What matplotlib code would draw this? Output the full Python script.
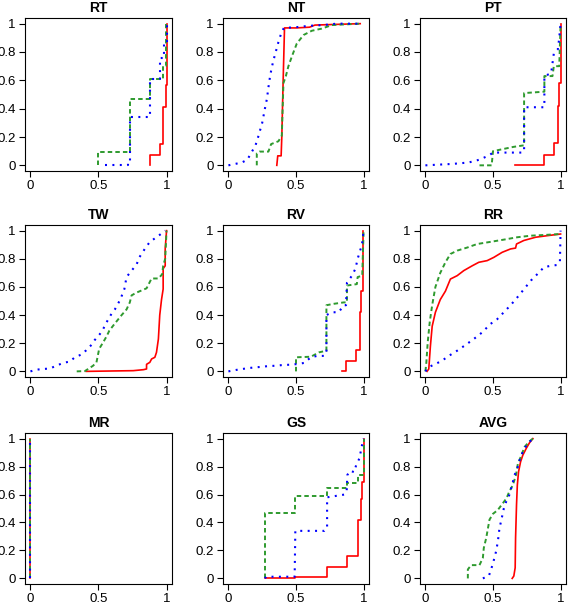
import matplotlib
matplotlib.use('Agg')
import matplotlib.pyplot as plt

plt.rcParams['font.family'] = ['Liberation Sans', 'DejaVu Sans']

# panel titles, row by row
titles = ['RT', 'NT', 'PT', 'TW', 'RV', 'RR', 'MR', 'GS', 'AVG']

x_ticks = [0, 0.5, 1]
x_tick_labels = ['0', '0.5', '1']
y_ticks = [0, 0.2, 0.4, 0.6, 0.8, 1]
y_tick_labels = ['0', '0.2', '0.4', '0.6', '0.8', '1']

# RT (step curves)
rt_red_x = [0.88, 0.88, 0.95, 0.975, 0.993, 1.0]
rt_red_y = [0, 0.07, 0.15, 0.41, 0.57, 1.0]
rt_green_x = [0.5, 0.5, 0.73, 0.88, 0.975, 0.995]
rt_green_y = [0, 0.095, 0.47, 0.61, 0.70, 1.0]
rt_blue_x = [0.55, 0.72, 0.73, 0.88, 0.95, 0.98, 1.0]
rt_blue_y = [0, 0.02, 0.34, 0.61, 0.76, 0.86, 1.0]

# NT
nt_red_x = [0.358, 0.365, 0.39, 0.395, 0.405, 0.415, 0.5, 0.6, 0.64, 0.8, 0.975]
nt_red_y = [0, 0.067, 0.067, 0.2, 0.6, 0.97, 0.97, 0.975, 0.99, 0.995, 1.0]
nt_green_x = [0.21, 0.21, 0.23, 0.296, 0.316, 0.37, 0.395, 0.407, 0.425, 0.444, 0.47,
              0.506, 0.556, 0.617, 0.69, 0.765, 0.864, 0.975]
nt_green_y = [0, 0.085, 0.097, 0.097, 0.15, 0.17, 0.21, 0.58, 0.63, 0.70, 0.77,
              0.86, 0.92, 0.95, 0.965, 0.99, 0.995, 1.0]
nt_blue_x = [0, 0.05, 0.1, 0.14, 0.17, 0.2, 0.22, 0.25, 0.27, 0.285, 0.296, 0.31,
             0.33, 0.35, 0.37, 0.39, 0.41, 0.5, 0.6, 0.7, 0.8, 0.97]
nt_blue_y = [0, 0.01, 0.02, 0.04, 0.09, 0.14, 0.2, 0.3, 0.4, 0.47, 0.55, 0.64,
             0.73, 0.8, 0.87, 0.93, 0.97, 0.975, 0.985, 0.99, 1.0, 1.0]

# PT
pt_red_x = [0.66, 0.88, 0.95, 0.98, 0.99, 1.0]
pt_red_y = [0.003, 0.075, 0.155, 0.42, 0.58, 1.0]
pt_green_x = [0.4, 0.49, 0.5, 0.55, 0.65, 0.72, 0.73, 0.73, 0.88, 0.88, 0.94, 0.95, 0.99, 1.0]
pt_green_y = [0, 0, 0.1, 0.11, 0.13, 0.14, 0.14, 0.51, 0.52, 0.63, 0.63, 0.7, 0.7, 1.0]
pt_blue_x = [0, 0.2, 0.32, 0.4, 0.47, 0.5, 0.55, 0.72, 0.73, 0.73, 0.88, 0.88,
             0.93, 0.95, 0.98, 0.99, 1.0]
pt_blue_y = [0, 0.01, 0.02, 0.04, 0.07, 0.09, 0.09, 0.09, 0.1, 0.41, 0.41, 0.63,
             0.65, 0.79, 0.82, 0.9, 1.0]

# TW
tw_red_x = [0.41, 0.755, 0.83, 0.853, 0.853, 0.877, 0.89, 0.914, 0.926, 0.94, 0.95,
            0.963, 0.975, 0.975, 0.99, 0.99, 1.0]
tw_red_y = [0, 0.005, 0.012, 0.017, 0.05, 0.064, 0.088, 0.1, 0.135, 0.23, 0.40,
            0.51, 0.585, 0.73, 0.75, 0.87, 1.0]
tw_green_x = [0.34, 0.40, 0.46, 0.485, 0.505, 0.534, 0.56, 0.58, 0.62, 0.67, 0.706,
              0.73, 0.743, 0.78, 0.853, 0.89, 0.94, 0.968, 0.975, 0.99, 1.0]
tw_green_y = [0, 0.002, 0.04, 0.064, 0.16, 0.206, 0.25, 0.29, 0.34, 0.40, 0.44,
              0.49, 0.54, 0.56, 0.59, 0.66, 0.66, 0.69, 0.75, 0.80, 1.0]
tw_blue_x = [0, 0.044, 0.093, 0.142, 0.19, 0.24, 0.29, 0.326, 0.375, 0.41, 0.45, 0.47,
             0.51, 0.534, 0.56, 0.596, 0.62, 0.66, 0.69, 0.706, 0.73, 0.755, 0.78,
             0.80, 0.84, 0.877, 0.914, 0.95, 0.99]
tw_blue_y = [0, 0.012, 0.017, 0.02, 0.04, 0.06, 0.07, 0.10, 0.12, 0.15, 0.19, 0.22,
             0.265, 0.30, 0.35, 0.41, 0.44, 0.51, 0.585, 0.67, 0.70, 0.73, 0.76,
             0.81, 0.87, 0.92, 0.945, 0.97, 1.0]

# RV
rv_red_x = [0.84, 0.873, 0.946, 0.97, 0.983, 0.995]
rv_red_y = [0, 0.073, 0.154, 0.42, 0.573, 1.0]
rv_green_x = [0.5, 0.5, 0.61, 0.67, 0.725, 0.725, 0.78, 0.853, 0.877, 0.877, 0.95,
              0.956, 0.99, 1.0]
rv_green_y = [0, 0.1, 0.104, 0.135, 0.147, 0.47, 0.48, 0.49, 0.49, 0.61, 0.62,
              0.67, 0.68, 1.0]
rv_blue_x = [0, 0.056, 0.105, 0.15, 0.2, 0.25, 0.3, 0.35, 0.4, 0.45, 0.51, 0.56,
             0.61, 0.657, 0.71, 0.725, 0.725, 0.767, 0.816, 0.853, 0.87, 0.877,
             0.914, 0.94, 0.956, 0.975, 0.988, 1.0]
rv_blue_y = [0, 0.01, 0.017, 0.024, 0.028, 0.033, 0.038, 0.04, 0.045, 0.047, 0.052,
             0.06, 0.1, 0.11, 0.11, 0.135, 0.40, 0.42, 0.42, 0.47, 0.47, 0.63,
             0.68, 0.73, 0.8, 0.86, 0.9, 1.0]

# RR
rr_red_x = [0.012, 0.025, 0.037, 0.05, 0.074, 0.11, 0.148, 0.185, 0.235, 0.284,
            0.346, 0.395, 0.457, 0.506, 0.568, 0.63, 0.667, 0.674, 0.728, 0.815,
            0.9, 1.0]
rr_red_y = [0, 0.017, 0.18, 0.32, 0.42, 0.51, 0.57, 0.656, 0.68, 0.716, 0.75, 0.775,
            0.787, 0.81, 0.846, 0.87, 0.876, 0.905, 0.93, 0.953, 0.964, 0.976]
rr_green_x = [0, 0.007, 0.017, 0.032, 0.05, 0.074, 0.11, 0.148, 0.185, 0.235, 0.31,
              0.383, 0.48, 0.58, 0.68, 0.778, 0.877, 1.0]
rr_green_y = [0, 0.064, 0.206, 0.35, 0.47, 0.6, 0.70, 0.775, 0.834, 0.858, 0.88,
              0.905, 0.92, 0.936, 0.953, 0.964, 0.969, 0.976]
rr_blue_x = [0, 0.012, 0.037, 0.074, 0.123, 0.173, 0.235, 0.296, 0.358, 0.42, 0.48,
             0.53, 0.58, 0.63, 0.68, 0.73, 0.78, 0.827, 0.877, 0.926, 0.975, 0.995, 1.0]
rr_blue_y = [0, 0.017, 0.036, 0.052, 0.076, 0.11, 0.147, 0.187, 0.23, 0.277, 0.336,
             0.37, 0.42, 0.47, 0.526, 0.585, 0.645, 0.69, 0.74, 0.75, 0.756, 0.78, 1.0]

# MR (all three sit on x = 0)
mr_red_x = [0, 0]
mr_red_y = [0, 1]
mr_green_x = [0, 0]
mr_green_y = [0, 1]
mr_blue_x = [0, 0]
mr_blue_y = [0, 1]

# GS
gs_red_x = [0.27, 0.495, 0.73, 0.88, 0.956, 0.98, 0.99, 1.0]
gs_red_y = [0.005, 0.012, 0.083, 0.16, 0.42, 0.57, 0.69, 1.0]
gs_green_x = [0.27, 0.27, 0.495, 0.73, 0.88, 0.96, 1.0]
gs_green_y = [0, 0.467, 0.59, 0.65, 0.68, 0.74, 1.0]
gs_blue_x = [0.27, 0.28, 0.49, 0.495, 0.71, 0.73, 0.73, 0.86, 0.875, 0.88, 0.9,
             0.93, 0.945, 0.97, 0.985, 1.0]
gs_blue_y = [0, 0.012, 0.012, 0.34, 0.34, 0.36, 0.58, 0.6, 0.63, 0.74, 0.77,
             0.76, 0.81, 0.86, 0.94, 1.0]

# AVG
avg_red_x = [0.642, 0.654, 0.664, 0.667, 0.674, 0.68, 0.689, 0.704, 0.72, 0.746, 0.77, 0.795]
avg_red_y = [0, 0.017, 0.076, 0.29, 0.526, 0.668, 0.763, 0.834, 0.88, 0.93, 0.97, 1.0]
avg_green_x = [0.314, 0.314, 0.338, 0.4, 0.425, 0.432, 0.45, 0.474, 0.5, 0.536, 0.573,
               0.6, 0.62, 0.647, 0.67, 0.684, 0.71, 0.733, 0.77, 0.795]
avg_green_y = [0, 0.064, 0.095, 0.095, 0.147, 0.218, 0.29, 0.42, 0.462, 0.49, 0.538,
               0.573, 0.62, 0.668, 0.74, 0.82, 0.88, 0.94, 0.98, 1.0]
avg_blue_x = [0.425, 0.47, 0.486, 0.504, 0.523, 0.536, 0.548, 0.56, 0.58, 0.598, 0.622,
              0.647, 0.66, 0.68, 0.704, 0.733, 0.758, 0.795]
avg_blue_y = [0, 0.02, 0.064, 0.123, 0.194, 0.265, 0.36, 0.41, 0.5, 0.55, 0.6,
              0.69, 0.74, 0.787, 0.87, 0.93, 0.965, 1.0]

# which curves are empirical step functions
panels = [
    ('RT', (rt_red_x, rt_red_y, True), (rt_green_x, rt_green_y, True), (rt_blue_x, rt_blue_y, True)),
    ('NT', (nt_red_x, nt_red_y, False), (nt_green_x, nt_green_y, False), (nt_blue_x, nt_blue_y, False)),
    ('PT', (pt_red_x, pt_red_y, True), (pt_green_x, pt_green_y, False), (pt_blue_x, pt_blue_y, False)),
    ('TW', (tw_red_x, tw_red_y, False), (tw_green_x, tw_green_y, False), (tw_blue_x, tw_blue_y, False)),
    ('RV', (rv_red_x, rv_red_y, True), (rv_green_x, rv_green_y, False), (rv_blue_x, rv_blue_y, False)),
    ('RR', (rr_red_x, rr_red_y, False), (rr_green_x, rr_green_y, False), (rr_blue_x, rr_blue_y, False)),
    ('MR', (mr_red_x, mr_red_y, False), (mr_green_x, mr_green_y, False), (mr_blue_x, mr_blue_y, False)),
    ('GS', (gs_red_x, gs_red_y, True), (gs_green_x, gs_green_y, True), (gs_blue_x, gs_blue_y, False)),
    ('AVG', (avg_red_x, avg_red_y, False), (avg_green_x, avg_green_y, False), (avg_blue_x, avg_blue_y, False)),
]

W, H = 568, 608
# pixel boxes of the plot frames
cols = [(25, 172), (223, 369), (420, 566)]
rows = [(18, 171), (225, 377), (433, 584)]

styles = [
    dict(color='#ff0000', lw=1.2, ls='-'),
    dict(color='#2e9a2e', lw=1.4, ls=(0, (2.3, 1.6))),
    dict(color='#0000ff', lw=1.5, ls=(0, (0.95, 2.6))),
]

fig = plt.figure(figsize=(W / 100, H / 100), dpi=100)

for i, (name, *series) in enumerate(panels):
    c0, c1 = cols[i % 3]
    r0, r1 = rows[i // 3]
    ax = fig.add_axes([c0 / W, 1 - r1 / H, (c1 - c0) / W, (r1 - r0) / H])

    for (xs, ys, step), st in zip(series, styles):
        ax.plot(xs, ys, drawstyle='steps-post' if step else 'default', **st)

    ax.set_xlim(-0.04, 1.04)
    ax.set_ylim(-0.04, 1.04)
    ax.set_xticks(x_ticks)
    ax.set_xticklabels(x_tick_labels)
    ax.set_yticks(y_ticks)
    ax.set_yticklabels(y_tick_labels)
    ax.tick_params(direction='out', length=4.3, width=0.8, pad=2.5, labelsize=9.5)
    for sp in ax.spines.values():
        sp.set_linewidth(0.8)
    ax.set_title(name, fontsize=10, fontweight='bold', pad=4)

fig.savefig('out.png', dpi=100)
